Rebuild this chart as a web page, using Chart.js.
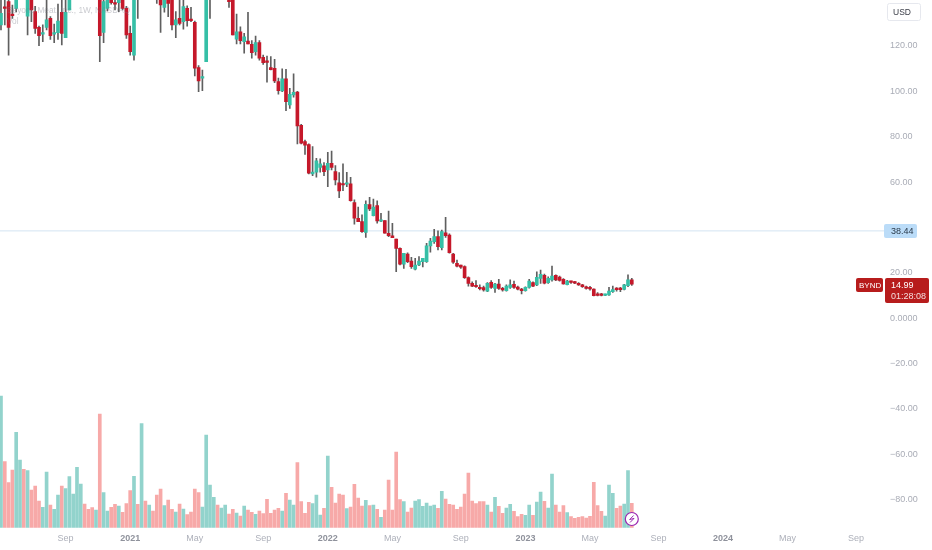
<!DOCTYPE html>
<html>
<head>
<meta charset="utf-8">
<title>BYND</title>
<script src="https://cdn.jsdelivr.net/npm/chart.js@4"></script>
<style>
  html, body { margin: 0; padding: 0; background: #fff; }
  #wrap { position: relative; width: 932px; height: 550px; overflow: hidden; }
</style>
</head>
<body>
<div id="wrap"><canvas id="chart"></canvas></div>
<script>
// weekly candles, price in USD (first weeks run above the visible range)
const opens = [129.3,137.2,139.6,134.1,136.6,146,152,133.2,142,135.2,
  128.2,125.2,128.2,132.2,125.2,125.9,134.9,123.7,135.9,146,
  155,165,172,162,155,151,158,126,136.6,148,
  139,139.1,144,136.6,125.6,116,150,148,156,150,
  156,150,145,137,145,144,129.3,132.2,130.7,136.6,
  131.8,130.4,110.5,105.8,113.1,150,155,160,154,146,
  145,142,123,126.3,121.9,122.2,120.7,117.5,121.5,115,
  113.4,110.5,110.2,104.3,100.2,105.5,94,98.4,99.7,85,
  77.8,76.5,63.6,64.3,66.4,67.1,65.3,68.3,64.6,59.6,
  59.2,59,59.2,50.9,44,42.5,37.8,50,45.2,49.6,
  42.7,43,37.4,36.3,34.8,30.7,23.8,28.2,25.1,21.5,
  23.4,24.9,24.9,31.8,33.7,35.9,31,37.6,36.6,28.2,
  24.1,23.4,22.7,17.8,15.3,14.1,13.5,13.4,11.9,15.7,
  13.1,15,13.1,12.1,13.5,14.9,13.7,12.7,12.1,13.5,
  15.6,14.6,17.5,18.8,15.6,16.8,18.8,18.1,17.1,14.7,
  16,16,15.3,14.6,13.8,13.5,12.8,10.4,10.3,10,
  10.2,11.6,12.8,12.8,12.6,14.3,16.8];
const highs = [142,141,143,138.1,146,156,156,148,146,137.5,
  128.8,129.3,141,133,129.7,138.5,141,143,150,160,
  168,178,176,166,160,162,165,146,150,152,
  143,147,148,137.5,128.8,150,152,160,159,160,
  158,155,150,148,149,148,135.2,143,145,137.7,
  137.1,131,111.4,109.4,150,160,165,163,162,156,
  150,146,134.1,128.5,125.6,134.9,122.4,124.4,122.4,116,
  115.6,115.3,114.1,105.8,109.9,109.7,101.3,107.7,100,85.5,
  78.5,76.8,75.6,70.5,70.2,68.6,73.1,73.7,67.2,64.2,
  68,64.3,62.1,52.1,48.9,45.5,51.7,53.3,52.5,51.7,
  46.2,43,47.2,41.8,34.8,31,28.5,28.8,26.8,26.3,
  27.1,26.3,32.9,35.2,39.1,38.5,38.8,44.4,37.1,28.5,
  25.6,23.4,23,18.2,16,16.5,14.6,14.1,15.6,16.5,
  15.3,17.1,13.5,14.6,16.8,16.3,14.1,13.1,13.8,17.1,
  16,20.4,21.2,19.4,18.2,22.9,19.1,18.5,17.4,16.6,
  16.3,16.2,15.6,14.9,14.1,14,12.9,11.2,10.9,10.6,
  13.5,14.1,13.4,13.5,14.9,19.1,17.5];
const lows = [127.1,129.3,116,132.2,135,144,143,124.9,130.7,125.6,
  120.2,121.9,127.1,122.9,121.5,122.9,120.5,123.7,135.9,144,
  152,160,158,150,148,146,113.1,121.5,135.5,138.5,
  135.9,135.2,135.9,123.4,116,113.8,132.2,146,147,148,
  146,138.8,126,134.9,133,127.1,123.7,129.3,127.4,128.8,
  130.7,106.8,99.9,100.3,113.1,132.2,150,150,150,143,
  137,124.9,120.9,120.9,116.8,120.9,114.6,116,113.8,111.9,
  104,109.4,103.8,98.8,99.9,91.5,92.5,97.4,76.8,76.8,
  72.2,63.6,62.8,62.1,64.3,62.8,58,65.3,58.7,53.1,
  56.2,58,51.6,41.4,42.5,37.8,35.6,47.4,45,41.8,
  42.5,37.4,35.9,35.4,20.4,23.4,21.9,24.4,21.9,21.2,
  23.1,22.6,24.5,29,32.9,30,30,35.6,28.6,24.1,
  22.6,21.9,17.5,14.1,13.8,13.5,12.4,11.9,11.6,13.1,
  11.3,12.6,11.9,11.9,13.1,13.1,12.4,10.6,11.8,13.2,
  13.8,14.3,15.3,15.1,15.3,16.3,16.5,16.3,14.9,14.6,
  15.3,15.2,14.4,13.5,12.7,12.3,9.7,9.7,9.7,9.9,
  10,11.3,11.8,11.6,12.4,13.8,14.4];
const closes = [134.4,136.6,128.2,133.4,142,152,146,142,135.9,127.8,
  124.6,125.9,131.5,124.6,125.9,131,125.6,134.9,145,155,
  165,172,162,155,151,158,124.6,139.6,146,139.1,
  138.5,143,136.6,124.9,117.5,146,147,156,150,156,
  150,142,138.1,143,138.8,129.3,131.5,130,137.4,131.2,
  131.2,110.2,104.6,106.3,145,155,160,154,158,152,
  139.6,124.9,126.3,122.4,124.1,120.9,117.1,121.5,114.6,112.7,
  112.8,109.6,104.6,100.3,105.5,95.5,98.7,99.6,84.7,77.1,
  76.3,63.9,64.4,69.3,68,64.6,68.3,66.4,60.9,56.1,
  58.7,59.6,51.8,44,42.5,38.1,50.2,48.1,48.9,42.8,
  43.1,37.4,36.3,35.4,30.7,23.8,28.5,24.9,22.7,23.4,
  25.1,26.3,31.8,34,35.9,31.5,38.1,36.3,28.8,24.6,
  22.9,22.4,17.8,15.3,14.1,13.8,12.9,12.4,15.3,13.5,
  15,13.1,12.4,14.1,14.6,13.5,12.7,12.1,13.5,16.3,
  14.1,18,19.3,15.4,17.5,18.5,16.8,16.6,15,16.3,
  15.7,15.4,14.6,13.8,13.1,12.8,9.9,10,10,10.4,
  11.9,12.6,12.5,12.5,14.6,16.8,14.99];
// volume in millions of shares
const volumes = [39.5,19.8,13.5,17.3,28.6,20.3,17.5,17.1,11.3,12.5,
  8,6.1,16.7,6.8,5.5,9.8,12.5,11.7,15.3,10.1,
  18.1,13.1,7.1,5.5,6,5.3,34.1,10.5,5,6.1,
  7,6.5,4.6,7.2,11.1,15.4,7,31.2,8,6.8,
  5,9.8,11.6,6.6,8.3,5.5,4.7,7.1,5.6,3.9,
  4.7,11.6,10.5,6.2,27.8,12.8,9.1,6.8,5.9,6.8,
  4.1,5.5,4.4,3.5,6.5,5.3,4.6,4,5,4.2,
  8.5,4.3,5.3,5.8,5,10.3,8.3,6.8,19.5,7.8,
  4.3,7.6,7.2,9.8,3.8,5.8,21.5,12.1,7.4,10.1,
  9.8,5.7,6.2,13,8.9,6.5,8.2,6.6,6.8,5.5,
  3.1,5.3,14.3,5.3,22.7,8.4,7.8,4.7,5.9,8,
  8.4,6.4,7.4,6.5,6.8,5.8,10.9,8.6,7,6.8,
  5.5,6.2,10.1,16.4,8,7.2,7.8,7.8,6.8,4.7,
  9.1,6.4,4.3,5.9,7,4.9,3.3,4,3.7,6.8,
  3.7,7.7,10.7,7.9,5.9,16.1,6.8,4.7,6.6,4.5,
  3.3,2.8,3.1,3.3,2.9,3.4,13.6,6.6,4.9,3.5,
  12.8,10.3,5.8,6.5,7.1,17.1,7.3];

const tickWeeks = [17,34,51,69,86,103,121,138,155,173,190,207,225];
const tickNames = ['Sep','2021','May','Sep','2022','May','Sep','2023','May','Sep','2024','May','Sep'];
const priceTicks = [-80,-60,-40,-20,0,20,40,60,80,100,120];

const levelPrice = 38.44;
const lastPrice = 14.99;
const countdown = '01:28:08';
const symbol = 'BYND';
const titleText = 'Beyond Meat, Inc., 1W, NASDAQ';

const UP = '#35bfa6';
const DOWN = '#c5182a';
const VOL_UP = '#92d3cc';
const VOL_DOWN = '#f7a9a8';
const WICK = '#5f5f5f';
const FONT = '"Liberation Sans", Arial, sans-serif';

const isUp = opens.map((o, i) => closes[i] >= o);
const isYearTick = v => /^\d/.test(tickNames[tickWeeks.indexOf(v)] || '');

const overlay = {
  id: 'overlay',
  afterDraw(chart) {
    const { ctx } = chart;
    const y = chart.scales.y;
    ctx.save();
    ctx.textBaseline = 'middle';

    // legend text, sits faintly over the candles
    ctx.font = '8.3px ' + FONT;
    ctx.fillStyle = 'rgba(120,123,134,0.4)';
    ctx.fillText(titleText, 7, 11);
    ctx.fillText('Vol', 7, 22);

    // currency button
    ctx.font = '8.5px ' + FONT;
    ctx.fillStyle = '#fff';
    ctx.strokeStyle = '#e6e8ee';
    ctx.beginPath();
    ctx.roundRect(887.5, 3.5, 33, 17, 2);
    ctx.fill();
    ctx.stroke();
    ctx.fillStyle = '#3a3d47';
    ctx.fillText('USD', 893, 12.5);

    // horizontal level tag
    ctx.font = '9px ' + FONT;
    const ly = y.getPixelForValue(levelPrice);
    ctx.fillStyle = '#bbdcf8';
    ctx.beginPath();
    ctx.roundRect(884, ly - 7, 33, 14, 2);
    ctx.fill();
    ctx.fillStyle = '#2a3a4a';
    ctx.fillText(levelPrice.toFixed(2), 891, ly + 0.5);

    // last price tag
    const py = y.getPixelForValue(lastPrice) - 5;
    ctx.fillStyle = '#b71c1c';
    ctx.beginPath();
    ctx.roundRect(856, py - 1, 27, 14, 2);
    ctx.fill();
    ctx.beginPath();
    ctx.roundRect(885, py - 1, 44, 25, 2);
    ctx.fill();
    ctx.fillStyle = '#fff';
    ctx.font = '8px ' + FONT;
    ctx.fillText(symbol, 859, py + 6.5);
    ctx.font = '9px ' + FONT;
    ctx.fillText(lastPrice.toFixed(2), 891, py + 6.5);
    ctx.fillStyle = 'rgba(255,255,255,0.85)';
    ctx.fillText(countdown, 891, py + 17.5);

    // earnings marker
    const ex = chart.scales.x.getPixelForValue(166);
    const ey = 519;
    ctx.beginPath();
    ctx.arc(ex, ey, 6.5, 0, Math.PI * 2);
    ctx.fillStyle = '#fff';
    ctx.fill();
    ctx.lineWidth = 1.2;
    ctx.strokeStyle = '#9c27b0';
    ctx.stroke();
    ctx.beginPath();
    ctx.moveTo(ex + 1.8, ey - 3.5);
    ctx.lineTo(ex - 2.2, ey + 0.6);
    ctx.lineTo(ex + 2.2, ey - 0.6);
    ctx.lineTo(ex - 1.8, ey + 3.5);
    ctx.lineWidth = 1;
    ctx.stroke();
    ctx.restore();
  }
};

new Chart(document.getElementById('chart'), {
  data: {
    datasets: [
      {
        type: 'bar',
        yAxisID: 'vol',
        order: 4,
        grouped: false,
        barThickness: 3,
        data: volumes.map((v, i) => ({ x: i, y: v })),
        backgroundColor: isUp.map(u => (u ? VOL_UP : VOL_DOWN))
      },
      {
        type: 'line',
        yAxisID: 'y',
        order: 3,
        data: [{ x: -0.26, y: levelPrice }, { x: 232.63, y: levelPrice }],
        borderColor: '#d3e4f2',
        borderWidth: 1,
        pointRadius: 0
      },
      {
        type: 'bar',
        yAxisID: 'y',
        order: 2,
        grouped: false,
        barThickness: 1,
        data: lows.map((l, i) => ({ x: i, y: [l, highs[i]] })),
        backgroundColor: WICK
      },
      {
        type: 'bar',
        yAxisID: 'y',
        order: 1,
        grouped: false,
        barThickness: 3,
        minBarLength: 1.5,
        data: opens.map((o, i) => ({ x: i, y: [o, closes[i]] })),
        backgroundColor: isUp.map(u => (u ? UP : DOWN))
      }
    ]
  },
  options: {
    responsive: true,
    maintainAspectRatio: false,
    animation: false,
    layout: { padding: 0 },
    plugins: { legend: { display: false }, tooltip: { enabled: false }, title: { display: false } },
    scales: {
      x: {
        type: 'linear',
        offset: false,
        min: -0.26,
        max: 232.63,
        grid: { display: false, drawTicks: false },
        border: { display: false },
        afterBuildTicks: scale => {
          scale.ticks = tickWeeks.map(v => ({ value: v }));
        },
        afterFit: scale => {
          scale.height = 22.3;
          scale.paddingLeft = 0;
          scale.paddingRight = 0;
        },
        ticks: {
          autoSkip: false,
          maxRotation: 0,
          padding: 5,
          callback: v => tickNames[tickWeeks.indexOf(v)],
          color: ctx => (ctx.tick && isYearTick(ctx.tick.value) ? '#8f929c' : '#adb0ba'),
          font: ctx => ({ family: FONT, size: 9, weight: ctx.tick && isYearTick(ctx.tick.value) ? 'bold' : 'normal' })
        }
      },
      y: {
        position: 'right',
        min: -92.5,
        max: 140.3,
        grid: { display: false, drawTicks: false },
        border: { display: false },
        afterBuildTicks: scale => { scale.ticks = priceTicks.map(v => ({ value: v })); },
        afterFit: scale => {
          scale.width = 47;
          scale.paddingTop = 0;
          scale.paddingBottom = 0;
        },
        ticks: {
          padding: 5,
          align: 'center',
          crossAlign: 'near',
          color: '#a9acb6',
          font: { family: FONT, size: 9 },
          callback: v => (v === 0 ? '0.0000' : v < 0 ? '\u2212' + Math.abs(v).toFixed(2) : v.toFixed(2))
        }
      },
      vol: { display: false, min: 0, max: 158.3 }
    }
  },
  plugins: [overlay]
});
</script>
</body>
</html>
